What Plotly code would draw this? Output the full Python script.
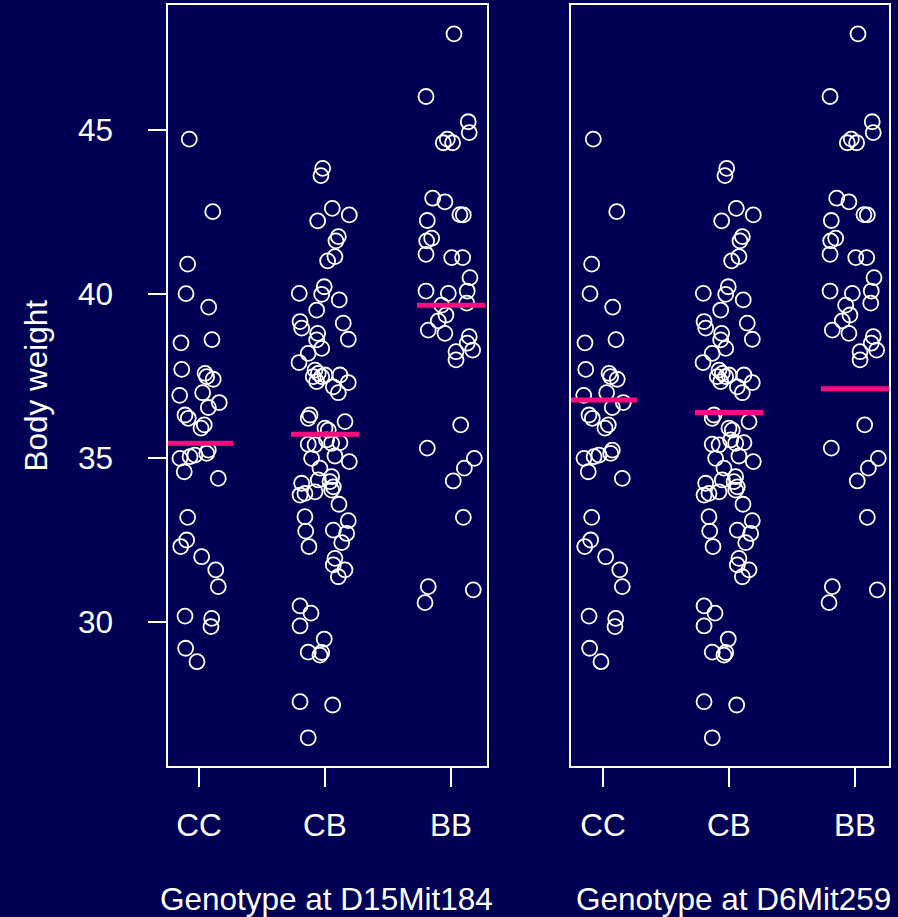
import plotly.graph_objects as go

# ---------------- data ----------------
genotypes = ["CC", "CB", "BB"]
geno_pos = [1, 2, 3]

cc_weight = [44.72, 42.51, 40.91, 40.01, 39.60, 38.51, 38.61, 37.70, 37.58, 37.48,
             37.40, 36.91, 36.99, 36.69, 36.54, 36.31, 36.21, 36.01, 35.91, 34.99,
             35.04, 35.09, 35.14, 35.24, 34.58, 34.38, 33.19, 32.50, 32.30, 31.99,
             31.59, 31.08, 30.18, 30.11, 29.86, 29.20, 28.79]
cc_jitter = [-0.077, 0.109, -0.090, -0.103, 0.077, -0.143, 0.103, -0.137, 0.048, 0.061,
             0.113, -0.153, 0.029, 0.161, 0.074, -0.111, -0.085, 0.042, 0.016, -0.151,
             -0.071, -0.032, 0.061, 0.074, -0.117, 0.153, -0.090, -0.098, -0.145, 0.021,
             0.133, 0.153, -0.111, 0.101, 0.095, -0.106, -0.016]

cb_weight = [43.83, 43.61, 42.61, 42.41, 42.23, 41.75, 41.62, 41.14, 41.01, 40.22,
             39.99, 40.02, 39.82, 39.51, 39.16, 38.96, 39.11, 38.80, 38.60, 38.62,
             38.34, 38.19, 37.91, 37.68, 37.58, 37.48, 37.48, 37.33, 37.53, 37.53,
             37.30, 37.17, 36.99, 36.31, 36.21, 36.11, 35.91, 35.85, 35.42, 35.40,
             35.55, 35.45, 35.47, 34.99, 35.06, 34.89, 34.69, 34.43, 34.28, 34.33,
             34.23, 33.87, 33.92, 33.97, 34.12, 34.02, 33.59, 33.21, 32.77, 33.09,
             32.70, 32.80, 32.42, 32.30, 31.94, 31.74, 31.59, 31.38, 30.49, 30.27,
             29.88, 29.48, 29.08, 28.99, 29.07, 27.57, 27.47, 26.47]
cb_jitter = [-0.018, -0.032, 0.058, 0.193, -0.058, 0.106, 0.087, 0.079, 0.021, -0.006,
             -0.026, -0.204, 0.113, -0.066, -0.198, -0.185, 0.145, -0.058, -0.066, 0.185,
             -0.026, -0.133, -0.206, -0.079, -0.053, -0.093, -0.026, -0.066, 0.000, 0.119,
             0.185, 0.066, 0.106, -0.119, -0.133, 0.159, 0.000, 0.026, -0.133, -0.079,
             0.013, 0.053, 0.119, -0.106, 0.079, 0.193, -0.040, 0.053, 0.040, -0.053,
             -0.185, -0.198, -0.159, -0.079, 0.066, 0.053, 0.111, -0.159, -0.153, 0.185,
             0.172, 0.066, 0.133, -0.127, 0.079, 0.066, 0.159, 0.106, -0.198, -0.111,
             -0.198, -0.006, -0.133, -0.040, -0.026, -0.198, 0.061, -0.133]

bb_weight = [47.93, 46.02, 45.25, 44.92, 44.61, 44.72, 44.61, 42.92, 42.81, 42.42,
             42.41, 42.24, 41.62, 41.70, 41.21, 41.11, 41.11, 40.50, 40.09, 40.02,
             40.09, 39.72, 39.66, 39.36, 39.18, 38.90, 38.80, 38.70, 38.50, 38.29,
             38.24, 37.99, 36.01, 35.30, 34.99, 34.69, 34.30, 33.19, 31.08, 30.98,
             30.59]
bb_jitter = [0.024, -0.198, 0.137, 0.145, -0.061, -0.029, 0.013, -0.145, -0.048, 0.071,
             0.098, -0.188, -0.193, -0.153, -0.198, 0.006, 0.093, 0.151, -0.198, -0.021,
             0.129, 0.125, -0.074, -0.040, -0.101, -0.180, -0.048, 0.145, 0.129, 0.172,
             0.040, 0.040, 0.077, -0.188, 0.185, 0.106, 0.018, 0.098, -0.180, 0.177,
             -0.206]

means_d15 = [35.45, 35.72, 39.66]
means_d6 = [36.77, 36.39, 37.11]

y_ticks = [30, 35, 40, 45]
xlabels = ["Genotype at D15Mit184", "Genotype at D6Mit259"]
ylabel = "Body weight"

# ---------------- style ----------------
BG = "#000055"
FG = "white"
PINK = "#FF0A7F"
FONT = "Liberation Sans, Arial, Helvetica, sans-serif"
FS = 31.5
HALF = 0.27

W, H = 898, 917
px_x = lambda p: p / W
px_y = lambda p: 1 - p / H

fig = go.Figure()

groups = [(cc_weight, cc_jitter), (cb_weight, cb_jitter), (bb_weight, bb_jitter)]
for panel, (xa, ya, means) in enumerate([("x", "y", means_d15), ("x2", "y2", means_d6)]):
    for pos, (w, j) in zip(geno_pos, groups):
        fig.add_trace(go.Scatter(
            x=[pos + d for d in j], y=w, mode="markers", xaxis=xa, yaxis=ya,
            marker=dict(symbol="circle-open", size=15, color=FG,
                        line=dict(width=1.8, color=FG)),
            showlegend=False, hoverinfo="skip"))
    for pos, m in zip(geno_pos, means):
        fig.add_trace(go.Scatter(
            x=[pos - HALF, pos + HALF], y=[m, m], mode="lines", xaxis=xa, yaxis=ya,
            line=dict(color=PINK, width=5), showlegend=False, hoverinfo="skip"))

y_dom = [1 - 766 / H, 1 - 5 / H]
y_rng = [25.61, 48.81]

xcommon = dict(tickmode="array", tickvals=geno_pos, ticktext=genotypes,
               ticks="outside", ticklen=19, tickwidth=1.5, tickcolor=FG,
               showline=True, linecolor=FG, linewidth=1.5, mirror=True,
               showgrid=False, zeroline=False, ticklabelstandoff=11,
               tickfont=dict(family=FONT, size=FS, color=FG))

fig.update_layout(
    width=W, height=H, autosize=False,
    margin=dict(l=0, r=0, t=0, b=0),
    paper_bgcolor=BG, plot_bgcolor=BG,
    font=dict(family=FONT, size=FS, color=FG),
    xaxis=dict(domain=[168 / W, 487 / W], range=[0.754, 3.286], anchor="y", **xcommon),
    xaxis2=dict(domain=[571 / W, 889 / W], range=[0.746, 3.27], anchor="y2", **xcommon),
    yaxis=dict(domain=y_dom, range=y_rng, anchor="x", tickmode="array", tickvals=y_ticks,
               ticks="outside", ticklen=18, tickwidth=1.5, tickcolor=FG,
               showline=True, linecolor=FG, linewidth=1.5, mirror=True,
               showgrid=False, zeroline=False, ticklabelstandoff=29,
               tickfont=dict(family=FONT, size=FS, color=FG)),
    yaxis2=dict(domain=y_dom, range=y_rng, anchor="x2", matches="y",
                showticklabels=False, ticks="",
                showline=True, linecolor=FG, linewidth=1.5, mirror=True,
                showgrid=False, zeroline=False),
)

fig.add_annotation(text=ylabel, x=px_x(35), y=px_y(385.5), xref="paper", yref="paper",
                   textangle=-90, showarrow=False, xanchor="center", yanchor="middle",
                   font=dict(family=FONT, size=FS, color=FG))
for cx, t in zip([326, 733], xlabels):
    fig.add_annotation(text=t, x=px_x(cx), y=px_y(899), xref="paper", yref="paper",
                       showarrow=False, xanchor="center", yanchor="middle",
                       font=dict(family=FONT, size=FS, color=FG))

fig.write_html("out.html",
               config={"displayModeBar": False},
               post_script="document.body.style.margin='0';"
                           "document.body.style.background='" + BG + "';")
